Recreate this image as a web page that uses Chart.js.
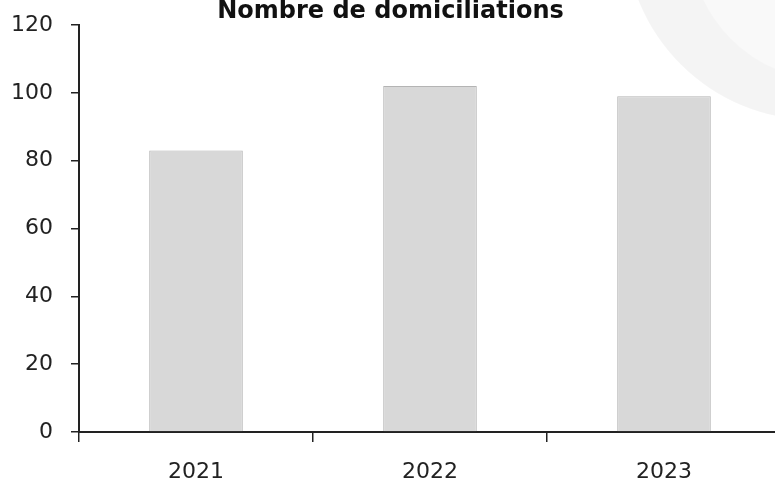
<!DOCTYPE html>
<html>
<head>
<meta charset="utf-8">
<script src="https://cdn.jsdelivr.net/npm/chart.js@4"></script>
<style>
  html, body { margin: 0; padding: 0; background: #fff; overflow: hidden; }
  #wrap { width: 781px; height: 485px; }
</style>
</head>
<body>
<div id="wrap"><canvas id="chart_div"></canvas></div>
<script>
const years = ['2021', '2022', '2023'];
const domiciliations = [83, 102, 99];
const yTicks = [0, 20, 40, 60, 80, 100, 120];

// faint scanned background swirl in the top right corner
const backdrop = {
  id: 'backdrop',
  beforeDraw(chart) {
    const c = chart.ctx;
    c.save();
    c.beginPath();
    c.arc(815, -70, 190, 0, Math.PI * 2);
    c.fillStyle = 'rgba(0,0,0,0.045)';
    c.fill();
    c.beginPath();
    c.arc(830, -60, 140, 0, Math.PI * 2);
    c.fillStyle = 'rgba(255,255,255,0.4)';
    c.fill();
    c.restore();
  }
};

const ctx = document.getElementById('chart_div').getContext('2d');
new Chart(ctx, {
  type: 'bar',
  data: {
    labels: years,
    datasets: [{
      label: 'Nombre de domiciliations',
      data: domiciliations,
      backgroundColor: '#d8d8d8',
      borderColor: '#b4b4b4',
      borderWidth: 1,
      barPercentage: 0.4,
      categoryPercentage: 1
    }]
  },
  options: {
    responsive: true,
    maintainAspectRatio: false,
    animation: false,
    layout: { padding: 0 },
    plugins: {
      legend: { display: false },
      tooltip: { enabled: false },
      title: {
        display: true,
        text: 'Nombre de domiciliations',
        color: '#111',
        font: { family: 'DejaVu Sans', size: 24, weight: 'bold', lineHeight: 1 },
        padding: { top: 0, bottom: 1 }
      }
    },
    scales: {
      x: {
        offset: true,
        grid: { drawOnChartArea: false, offset: true, tickLength: 10, color: '#222', lineWidth: 1.5 },
        border: { color: '#222', width: 2 },
        ticks: { color: '#222', padding: 17, font: { family: 'DejaVu Sans', size: 22 } },
        afterFit: scale => { scale.height = 53; }
      },
      y: {
        min: 0,
        max: 120,
        afterBuildTicks: scale => { scale.ticks = yTicks.map(v => ({ value: v })); },
        grid: { drawOnChartArea: false, tickLength: 8, color: '#222', lineWidth: 1.5 },
        border: { color: '#222', width: 2 },
        ticks: { color: '#222', padding: 18, font: { family: 'DejaVu Sans', size: 22 } },
        afterFit: scale => {
          scale.width = 79;
          scale.paddingTop = 12;
          scale.paddingBottom = 12;
        }
      }
    }
  },
  plugins: [backdrop]
});
</script>
</body>
</html>
